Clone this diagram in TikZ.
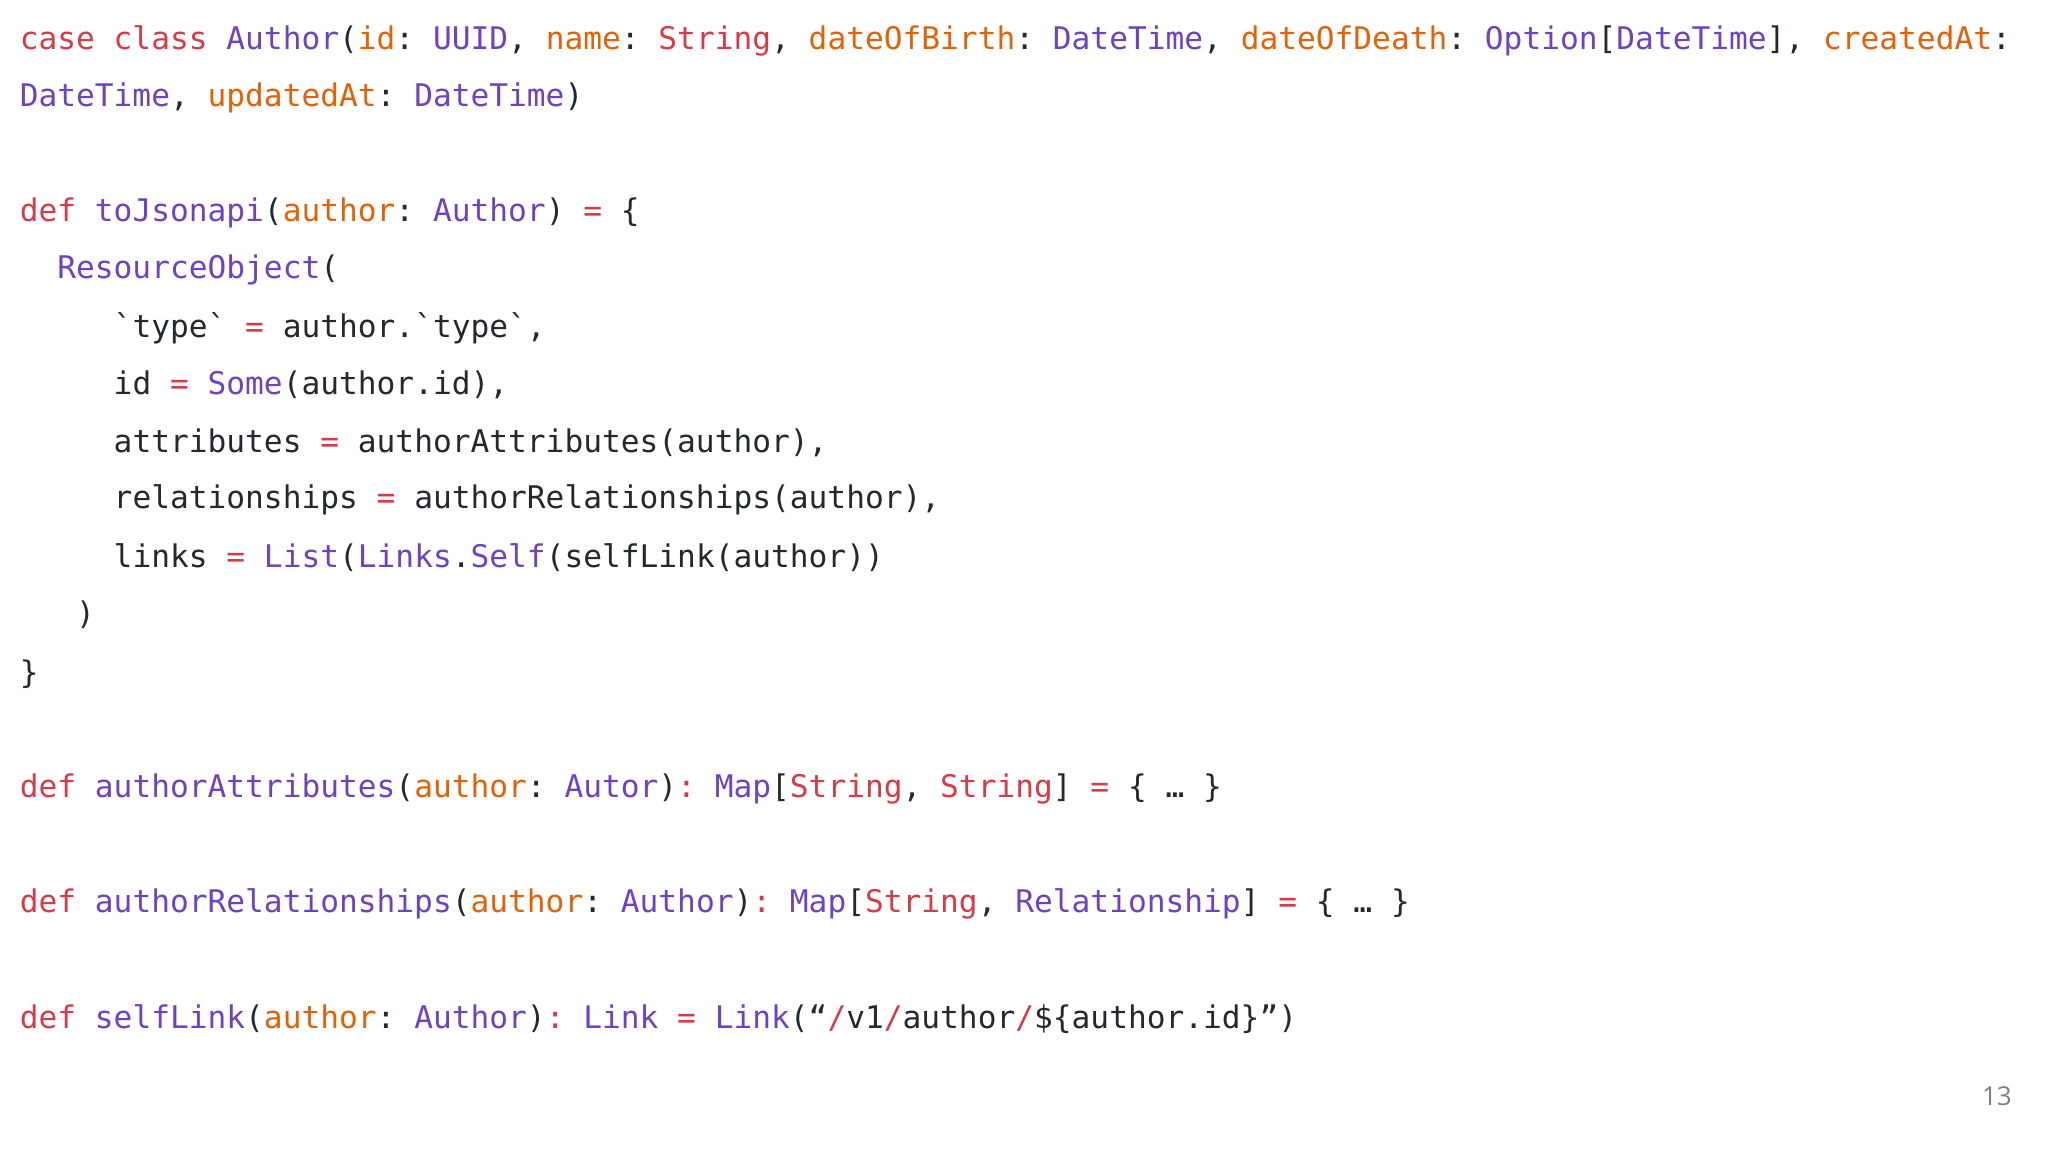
\documentclass[tikz,border=0pt]{standalone}
\usepackage{fontspec}
\setmonofont{DejaVu Sans Mono}
\setsansfont{Open Sans}
\definecolor{kw}{HTML}{D73A49}
\definecolor{ty}{HTML}{6F42C1}
\definecolor{pa}{HTML}{E36209}
\definecolor{tx}{HTML}{24292E}
\newcommand{\Kw}[1]{\textcolor{kw}{#1}}
\newcommand{\Ty}[1]{\textcolor{ty}{#1}}
\newcommand{\Pa}[1]{\textcolor{pa}{#1}}
\begin{document}
\begin{tikzpicture}[x=1pt,y=1pt,
  code/.style={anchor=west,inner sep=0pt,font=\ttfamily\fontsize{31.2}{36}\selectfont,text=tx}]
\useasboundingbox[fill=white] (0,0) rectangle (2048,-1152);
\node[code] (l1) at (19.6,-40.5) {\Kw{case class} \Ty{Author}(\Pa{id}: \Ty{UUID}, \Pa{name}: \Kw{String}, \Pa{dateOfBirth}: \Ty{DateTime}, \Pa{dateOfDeath}: \Ty{Option}[\Ty{DateTime}], \Pa{createdAt}:};
\node[code] (l2) at (19.6,-98) {\Ty{DateTime}, \Pa{updatedAt}: \Ty{DateTime})};
\node[code] (l3) at (19.6,-213) {\Kw{def} \Ty{toJsonapi}(\Pa{author}: \Ty{Author}) \Kw{=} \{};
\node[code] (l4) at (19.6,-270) {\phantom{xx}\Ty{ResourceObject}(};
\node[code] (l5) at (19.6,-328) {\phantom{xxxxx}`type` \Kw{=} author.`type`,};
\node[code] (l6) at (19.6,-385) {\phantom{xxxxx}id \Kw{=} \Ty{Some}(author.id),};
\node[code] (l7) at (19.6,-443) {\phantom{xxxxx}attributes \Kw{=} authorAttributes(author),};
\node[code] (l8) at (19.6,-500) {\phantom{xxxxx}relationships \Kw{=} authorRelationships(author),};
\node[code] (l9) at (19.6,-558) {\phantom{xxxxx}links \Kw{=} \Ty{List}(\Ty{Links}.\Ty{Self}(selfLink(author))};
\node[code] (l10) at (19.6,-615) {\phantom{xxx})};
\node[code] (l11) at (19.6,-674) {\}};
\node[code] (l12) at (19.6,-789) {\Kw{def} \Ty{authorAttributes}(\Pa{author}: \Ty{Autor})\Kw{:} \Ty{Map}[\Kw{String}, \Kw{String}] \Kw{=} \{ … \}};
\node[code] (l13) at (19.6,-904) {\Kw{def} \Ty{authorRelationships}(\Pa{author}: \Ty{Author})\Kw{:} \Ty{Map}[\Kw{String}, \Ty{Relationship}] \Kw{=} \{ … \}};
\node[code] (l14) at (19.6,-1019) {\Kw{def} \Ty{selfLink}(\Pa{author}: \Ty{Author})\Kw{:} \Ty{Link} \Kw{=} \Ty{Link}(“\Kw{/}v1\Kw{/}author\Kw{/}\$\{author.id\}”)};
\node[anchor=east,inner sep=0pt,font=\sffamily\fontsize{26}{30}\selectfont,text=gray] (pg) at (2012,-1096) {13};
\end{tikzpicture}
\end{document}
